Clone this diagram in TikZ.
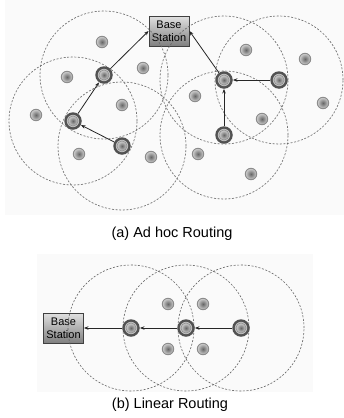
\documentclass[tikz,border=0pt]{standalone}
\usepackage{fontspec}
\setmainfont{Liberation Sans}
\usetikzlibrary{arrows.meta}
\begin{document}
\begin{tikzpicture}[x=1pt,y=-1pt,
  rangec/.style={draw=black!60, dash pattern=on 2pt off 1.6pt, line width=0.6pt},
  snode/.style={circle, minimum size=11.5pt, inner sep=0pt, draw=black!45, line width=0.9pt, inner color=black!60, outer color=black!18},
  bnode/.style={circle, minimum size=17.5pt, inner sep=0pt, fill=black!68, path picture={
     \fill[black!25] (path picture bounding box.center) circle (6.2pt);
     \shade[inner color=black!60, outer color=black!18] (path picture bounding box.center) circle (5pt);
     \draw[black!45, line width=0.6pt] (path picture bounding box.center) circle (5pt);}},
  bstation/.style={rectangle, draw=black!75, line width=0.9pt, top color=black!12, bottom color=black!50, minimum width=40pt, minimum height=30pt, inner sep=0pt, align=center, font=\fontsize{11}{13}\selectfont},
  link/.style={draw=black!85, line width=0.8pt, -{Stealth[length=4.5pt,width=3.5pt]}},
  caption/.style={font=\fontsize{14.5}{16}\selectfont}
]
\useasboundingbox (0,0) rectangle (344,418);
\fill[black!2] (5,0) rectangle (344,215);
\fill[black!2] (37,254) rectangle (313,392);

% ---------- (a) Ad hoc routing ----------
\node[bstation] (bs1) at (169,31) {Base\\Station};

\coordinate (c1) at (104,75);
\coordinate (c2) at (73,121);
\coordinate (c3) at (122,146);
\coordinate (c4) at (224,80);
\coordinate (c5) at (279,80);
\coordinate (c6) at (224,135);
\foreach \c in {c1,c2,c3,c4,c5,c6} \draw[rangec] (\c) circle (64pt);

\node[bnode] (a1) at (c1) {};
\node[bnode] (a2) at (c2) {};
\node[bnode] (a3) at (c3) {};
\node[bnode] (a4) at (c4) {};
\node[bnode] (a5) at (c5) {};
\node[bnode] (a6) at (c6) {};

\node[snode] (s1) at (102,42) {};
\node[snode] (s2) at (67,77) {};
\node[snode] (s3) at (143,68) {};
\node[snode] (s4) at (122,105) {};
\node[snode] (s5) at (36,115) {};
\node[snode] (s6) at (79,154) {};
\node[snode] (s7) at (151,157) {};
\node[snode] (s8) at (195,96) {};
\node[snode] (s9) at (246,50) {};
\node[snode] (s10) at (305,59) {};
\node[snode] (s11) at (323,103) {};
\node[snode] (s12) at (262,119) {};
\node[snode] (s13) at (198,154) {};
\node[snode] (s14) at (251,174) {};

\draw[link] (a3) -- (a2);
\draw[link] (a2) -- (a1);
\draw[link] (a1) -- (bs1.west);
\draw[link] (a5) -- (a4);
\draw[link] (a6) -- (a4);
\draw[link] (a4) -- (bs1.east);

\node[caption] (capa) at (172,234) {(a) Ad hoc Routing};

% ---------- (b) Linear routing ----------
\node[bstation] (bs2) at (63.5,328) {Base\\Station};

\coordinate (d1) at (131,328);
\coordinate (d2) at (186,328);
\coordinate (d3) at (241,328);
\foreach \c in {d1,d2,d3} \draw[rangec] (\c) circle (63pt);

\node[bnode] (b1) at (d1) {};
\node[bnode] (b2) at (d2) {};
\node[bnode] (b3) at (d3) {};

\node[snode] (t1) at (168,304) {};
\node[snode] (t2) at (203,304) {};
\node[snode] (t3) at (168,349) {};
\node[snode] (t4) at (203,349) {};

\draw[link] (b3) -- (b2);
\draw[link] (b2) -- (b1);
\draw[link] (b1) -- (bs2.east);

\node[caption] (capb) at (170,405) {(b) Linear Routing};
\end{tikzpicture}
\end{document}
